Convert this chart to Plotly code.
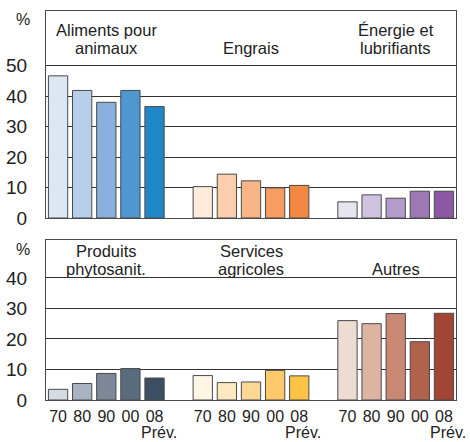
import plotly.graph_objects as go

years = ["70", "80", "90", "00", "08"]
forecast_label = "Prév."

top_titles = [["Aliments pour", "animaux"], ["Engrais"], ["Énergie et", "lubrifiants"]]
bottom_titles = [["Produits", "phytosanit."], ["Services", "agricoles"], ["Autres"]]

aliments = [46.7, 41.9, 38.0, 41.9, 36.6]
engrais = [10.3, 14.4, 12.2, 9.9, 10.7]
energie = [5.3, 7.6, 6.5, 8.8, 8.8]
produits = [3.5, 5.4, 8.7, 10.3, 7.2]
services = [8.0, 5.7, 5.9, 9.7, 7.9]
autres = [26.0, 25.0, 28.3, 19.1, 28.4]

col_aliments = ["#dce6f4", "#b8cfe9", "#8ab0de", "#4e97d1", "#1f86c8"]
col_engrais = ["#fdebdc", "#fbcfae", "#f8b588", "#f59d62", "#f38843"]
col_energie = ["#e8e3f1", "#cfc3e0", "#b39ccc", "#9e77b5", "#8c58a3"]
col_produits = ["#d5dbe3", "#a9b3c1", "#7a8898", "#5a6b7d", "#3c4e63"]
col_services = ["#fff6e6", "#fee8c0", "#fdd895", "#fdc96a", "#fdc347"]
col_autres = ["#eddcd2", "#ddb3a2", "#c88873", "#b0624d", "#a34535"]

top_ticks = [0, 10, 20, 30, 40, 50]
bottom_ticks = [0, 10, 20, 30, 40]

FONT = "Liberation Sans, Arial, sans-serif"
SLOT = len(years) + 1

fig = go.Figure()

def xs(g):
    return [g * SLOT + i for i in range(len(years))]

top_series = [(aliments, col_aliments), (engrais, col_engrais), (energie, col_energie)]
bottom_series = [(produits, col_produits), (services, col_services), (autres, col_autres)]

for g, (vals, cols) in enumerate(top_series):
    fig.add_trace(go.Bar(x=xs(g), y=vals, marker=dict(color=cols, line=dict(color="#4a4a4a", width=1)),
                         width=0.8, xaxis="x", yaxis="y", showlegend=False, hoverinfo="skip"))
for g, (vals, cols) in enumerate(bottom_series):
    fig.add_trace(go.Bar(x=xs(g), y=vals, marker=dict(color=cols, line=dict(color="#4a4a4a", width=1)),
                         width=0.8, xaxis="x2", yaxis="y2", showlegend=False, hoverinfo="skip"))

n_slots = 3 * SLOT - 1
tickvals = [g * SLOT + i for g in range(3) for i in range(len(years))]
ticktext = [y for g in range(3) for y in years]

axis_common = dict(showline=True, linecolor="#4a4a4a", linewidth=1, mirror=True, zeroline=False,
                   automargin=False, fixedrange=True)

fig.update_layout(
    template="none",
    width=470, height=442,
    margin=dict(l=46, r=14, t=11, b=42, autoexpand=False),
    paper_bgcolor="white", plot_bgcolor="white",
    font=dict(family=FONT, color="#222", size=16),
    bargap=0.2,
    xaxis=dict(domain=[0, 1], anchor="y", range=[-0.5, n_slots - 0.5], showticklabels=False,
               showgrid=False, ticks="", **axis_common),
    yaxis=dict(domain=[0.4679, 1], anchor="x", range=[0, 68], tickvals=top_ticks,
               showgrid=True, gridcolor="#333", gridwidth=1,
               ticks="outside", ticklen=14, tickcolor="rgba(0,0,0,0)",
               tickfont=dict(size=19, family=FONT, color="#222"), **axis_common),
    xaxis2=dict(domain=[0, 1], anchor="y2", range=[-0.5, n_slots - 0.5], tickvals=tickvals,
                ticktext=ticktext, showgrid=False, ticks="outside", ticklen=2,
                tickcolor="rgba(0,0,0,0)", tickfont=dict(size=16, family=FONT, color="#222"),
                **axis_common),
    yaxis2=dict(domain=[0, 0.4113], anchor="x2", range=[0, 52.4], tickvals=bottom_ticks,
                showgrid=True, gridcolor="#333", gridwidth=1,
                ticks="outside", ticklen=14, tickcolor="rgba(0,0,0,0)",
                tickfont=dict(size=19, family=FONT, color="#222"), **axis_common),
)

ann = []
def add_titles(titles, yref, y_line1, y_line2):
    for g, lines in enumerate(titles):
        cx = g * SLOT + (len(years) - 1) / 2
        ys = [y_line1, y_line2][-len(lines):]
        for line, yy in zip(lines, ys):
            ann.append(dict(x=cx, y=yy, xref=yref.replace("y", "x"), yref=yref, text=line,
                            showarrow=False, xanchor="center", yanchor="middle", borderpad=0,
                            font=dict(size=16.5, family=FONT, color="#222")))

add_titles(top_titles, "y", 61.6, 56.0)
add_titles(bottom_titles, "y2", 48.7, 43.0)

# "Prév." under each 08 label
for g in range(3):
    ann.append(dict(x=g * SLOT + len(years) - 1, y=-0.0823, xref="x2", yref="paper", text=forecast_label,
                    showarrow=False, xanchor="center", yanchor="middle", xshift=4, borderpad=0,
                    font=dict(size=16, family=FONT, color="#222")))

# percent signs
ann.append(dict(x=-0.0573, y=0.9794, xref="paper", yref="paper", text="%", showarrow=False,
                xanchor="center", yanchor="middle", font=dict(size=16, family=FONT, color="#222")))
ann.append(dict(x=-0.0573, y=0.388, xref="paper", yref="paper", text="%", showarrow=False,
                xanchor="center", yanchor="middle", font=dict(size=16, family=FONT, color="#222")))

fig.update_layout(annotations=ann)
fig.write_html("out.html", config={"displayModeBar": False, "staticPlot": True},
               post_script="document.body.style.margin='0';document.body.style.overflow='hidden';")
